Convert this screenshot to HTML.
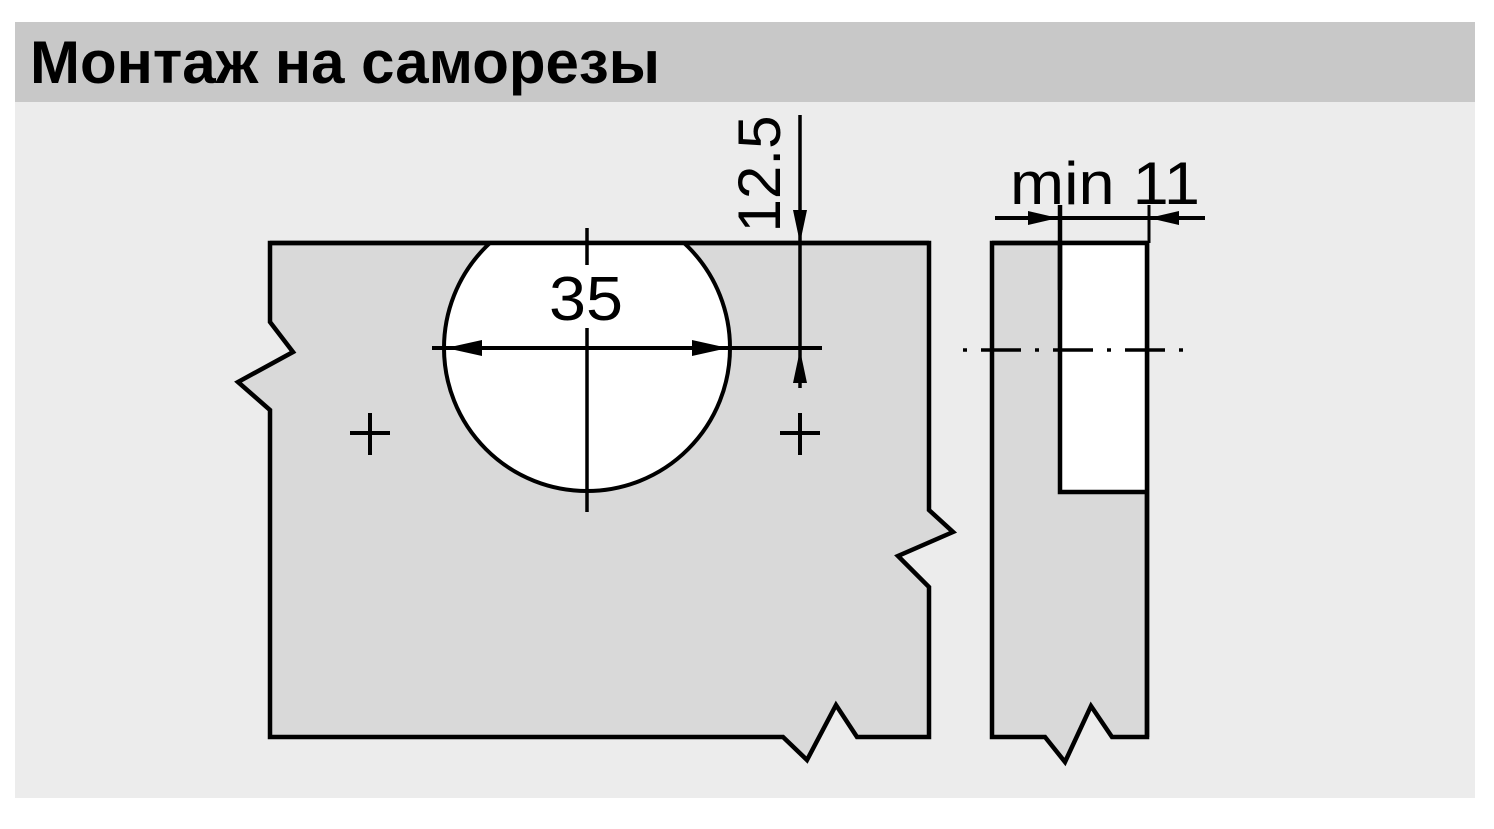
<!DOCTYPE html>
<html><head><meta charset="utf-8"><style>
html,body{margin:0;padding:0;background:#fff;}
svg{display:block;}
</style></head><body>
<svg width="1494" height="829" viewBox="0 0 1494 829" xmlns="http://www.w3.org/2000/svg">
<defs>
<clipPath id="cp"><rect x="0" y="244" width="1494" height="600"/></clipPath>
</defs>
<rect x="0" y="0" width="1494" height="829" fill="#fff"/>
<rect x="15" y="22" width="1460" height="776" fill="#ececec"/>
<rect x="15" y="22" width="1460" height="80" fill="#c8c8c8"/>
<text x="30" y="83" font-family="Liberation Sans, sans-serif" font-weight="bold" font-size="60" fill="#000" textLength="630" lengthAdjust="spacingAndGlyphs">Монтаж на саморезы</text>

<polygon fill="#d9d9d9" stroke="#000" stroke-width="4.5" points="270,243 929,243 929,510 953,532 898,556 929,587 929,737 857,737 836,705 807,760 783,737 270,737 270,410 238,382 293,352 270,322"/>
<circle cx="587" cy="348" r="143" fill="#fff" stroke="#000" stroke-width="4" clip-path="url(#cp)"/>
<g stroke="#000" fill="none">
<line x1="270" y1="243" x2="929" y2="243" stroke-width="4.5"/>
<line x1="587" y1="228" x2="587" y2="265" stroke-width="3.5"/>
<line x1="587" y1="328" x2="587" y2="512" stroke-width="3.5"/>
<line x1="432" y1="348" x2="822" y2="348" stroke-width="4"/>
<line x1="800" y1="115" x2="800" y2="388" stroke-width="3.5"/>
<line x1="350" y1="433" x2="390" y2="433" stroke-width="4"/>
<line x1="370" y1="413" x2="370" y2="455" stroke-width="4"/>
<line x1="780" y1="433" x2="820" y2="433" stroke-width="4"/>
<line x1="800" y1="413" x2="800" y2="455" stroke-width="4"/>
</g>
<g fill="#000">
<polygon points="446,348 482,340 482,356"/>
<polygon points="728,348 692,340 692,356"/>
<polygon points="800,243 793,210 807,210"/>
<polygon points="800,350 793,383 807,383"/>
</g>
<text x="586" y="320" text-anchor="middle" font-family="Liberation Sans, sans-serif" font-size="62" fill="#000" textLength="74" lengthAdjust="spacingAndGlyphs">35</text>
<text transform="translate(780,174) rotate(-90)" text-anchor="middle" font-family="Liberation Sans, sans-serif" font-size="60" fill="#000" textLength="117" lengthAdjust="spacingAndGlyphs">12.5</text>

<polygon fill="#d9d9d9" stroke="#000" stroke-width="4.5" points="992,243 1147,243 1147,737 1112,737 1091,706 1065,762 1045,737 992,737"/>
<rect x="1060" y="245" width="85" height="247" fill="#fff"/>
<polyline fill="none" stroke="#000" stroke-width="4.5" points="1060,245 1060,492 1147,492"/>
<line x1="1147" y1="243" x2="1147" y2="737" stroke="#000" stroke-width="4.5"/>
<line x1="992" y1="243" x2="1147" y2="243" stroke="#000" stroke-width="4.5"/>
<line x1="963" y1="350" x2="1190" y2="350" stroke="#000" stroke-width="3.5" stroke-dasharray="4,14,40,14"/>
<line x1="995" y1="218" x2="1205" y2="218" stroke="#000" stroke-width="4"/>
<line x1="1060" y1="205" x2="1060" y2="290" stroke="#000" stroke-width="4.5"/>
<line x1="1149" y1="205" x2="1149" y2="243" stroke="#000" stroke-width="3"/>
<polygon points="1058,218 1028,211 1028,225" fill="#000"/>
<polygon points="1149,218 1179,211 1179,225" fill="#000"/>
<text x="1010" y="204" font-family="Liberation Sans, sans-serif" font-size="60" fill="#000" textLength="190" lengthAdjust="spacingAndGlyphs">min 11</text>
</svg>
</body></html>
